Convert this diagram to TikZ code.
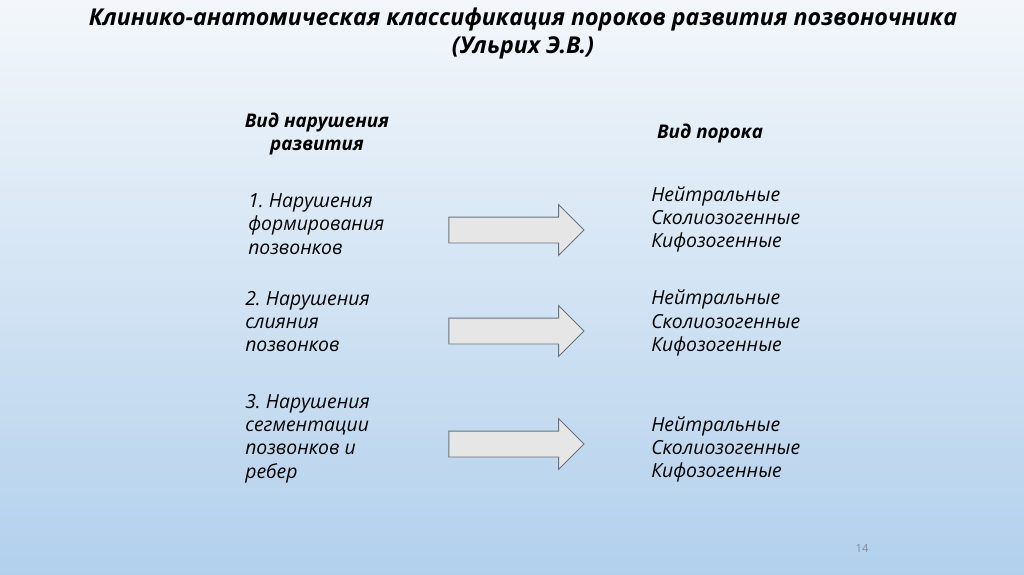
\documentclass[tikz,border=0pt]{standalone}
\usepackage{fontspec}
\setmainfont{Open Sans}
\usetikzlibrary{shapes.arrows}
\definecolor{bgtop}{RGB}{243,247,251}
\definecolor{bgbottom}{RGB}{178,208,236}
\definecolor{arrowfill}{RGB}{230,230,230}
\definecolor{arrowline}{RGB}{105,115,125}
\definecolor{pagegray}{RGB}{130,140,150}
\tikzset{
  pointarrow/.style={single arrow, draw=arrowline, fill=arrowfill, line width=0.7pt,
    minimum height=3.375cm, inner xsep=0pt, inner ysep=0.3125cm,
    text height=0pt, text depth=0pt,
    single arrow head extend=0.3125cm, single arrow head indent=0pt},
  itemtext/.style={anchor=west, align=left, inner sep=0pt,
    font=\fontsize{13.8}{16.5}\selectfont\itshape},
  headtext/.style={align=center, inner sep=0pt,
    font=\fontsize{13.4}{17}\selectfont\bfseries\itshape},
}

\begin{document}
\frenchspacing
\begin{tikzpicture}[x=0.025cm,y=-0.025cm]
\shade[top color=bgtop, bottom color=bgbottom] (0,0) rectangle (1024,574);
\useasboundingbox (0,0) rectangle (1024,574);

% title
\node[align=center, inner sep=0pt, font=\fontsize{16.5}{20.4}\selectfont\bfseries\itshape] (title) at (523,33.5)
  {Клинико-анатомическая классификация пороков развития позвоночника\\(Ульрих Э.В.)};

% column heads
\node[headtext] (headleft) at (317,134) {Вид нарушения\\развития};
\node[headtext] (headright) at (710,134) {Вид порока};

% left column
\node[itemtext] (kindA) at (248,224) {1. Нарушения\\формирования\\позвонков};
\node[itemtext] (kindB) at (245,321.5) {2. Нарушения\\слияния\\позвонков};
\node[itemtext] (kindC) at (245,438.5) {3. Нарушения\\сегментации\\позвонков и\\ребер};

% arrows
\node[pointarrow] (arrowA) at (510,230) {};
\node[pointarrow] (arrowB) at (510,331) {};
\node[pointarrow] (arrowC) at (510,444) {};

% right column
\node[itemtext] (typeA) at (651,219.5) {Нейтральные\\Сколиозогенные\\Кифозогенные};
\node[itemtext] (typeB) at (651,323) {Нейтральные\\Сколиозогенные\\Кифозогенные};
\node[itemtext] (typeC) at (651,449.5) {Нейтральные\\Сколиозогенные\\Кифозогенные};

% page number
\node[text=pagegray, inner sep=0pt, font=\fontsize{8}{10}\selectfont] (pagenum) at (862,548) {14};
\end{tikzpicture}
\end{document}
